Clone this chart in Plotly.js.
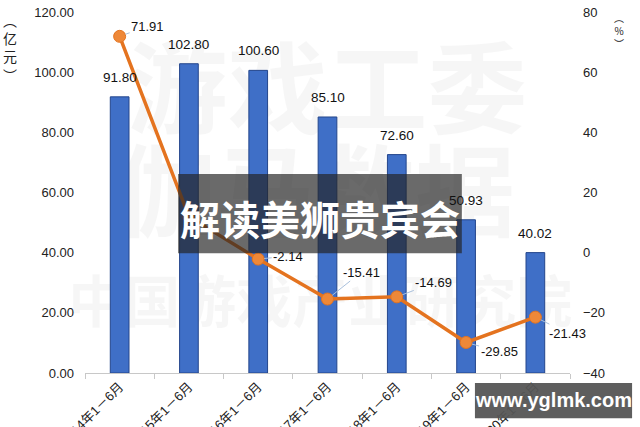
<!DOCTYPE html>
<html>
<head>
<meta charset="utf-8">
<script src="https://cdn.plot.ly/plotly-3.0.1.min.js"></script>
<style>html,body{margin:0;padding:0;background:#fff;}#chart{width:640px;height:427px;}</style>
</head>
<body>
<div id="chart"></div>
<script>
const categories = ["2014年1－6月","2015年1－6月","2016年1－6月","2017年1－6月","2018年1－6月","2019年1－6月","2020年1－6月"];
const revenue = [91.80, 102.80, 100.60, 85.10, 72.60, 50.93, 40.02];
const growth = [71.91, 11.98, -2.14, -15.41, -14.69, -29.85, -21.43];
const growthShown = [true, false, true, true, true, true, true];
const growthOffsets = [[28,-10],[0,0],[30,-3],[34,-27],[37,-14],[33,9],[32,16]];

const font = "Liberation Sans, Arial, Noto Sans CJK SC, sans-serif";

const bars = {
  type: "bar", x: categories, y: revenue, yaxis: "y",
  width: 0.27,
  marker: {color: "#3F6FC7", line: {color: "#24468C", width: 1}},
  hoverinfo: "none"
};
const line = {
  type: "scatter", mode: "lines+markers", x: categories, y: growth, yaxis: "y2",
  line: {color: "#E4731F", width: 3.5},
  marker: {color: "#EE8838", size: 12, line: {color: "#E4731F", width: 1}},
  hoverinfo: "none", cliponaxis: false
};

const annotations = [];
revenue.forEach((v, i) => {
  annotations.push({
    x: categories[i], y: v, xref: "x", yref: "y", yanchor: "bottom", xanchor: "center",
    yshift: 10, text: v.toFixed(2), showarrow: false,
    font: {family: font, size: 13.5, color: "#111"}
  });
});
growth.forEach((g, i) => {
  if (!growthShown[i]) return;
  annotations.push({
    x: categories[i], y: g, xref: "x", yref: "y2",
    text: g.toFixed(2), showarrow: true, arrowhead: 0, arrowwidth: 1,
    arrowcolor: "#a9c0dc", ax: growthOffsets[i][0], ay: growthOffsets[i][1],
    standoff: 6, font: {family: font, size: 13, color: "#111"}
  });
});
// axis units
annotations.push({xref: "paper", yref: "paper", x: -0.155, y: 1.01, yanchor: "top", text: "︵<br>亿<br>元<br>︶",
  showarrow: false, font: {family: "Noto Sans CJK SC", size: 14, color: "#222"}, xanchor: "center"});
annotations.push({xref: "paper", yref: "paper", x: 1.1, y: 1.01, yanchor: "top", text: "︵<br>%<br>︶",
  showarrow: false, font: {family: "Noto Sans CJK SC", size: 10, color: "#222"}, xanchor: "center"});
// overlay title
annotations.push({xref: "paper", yref: "paper", x: 0.485, y: 0.43, xanchor: "center", yanchor: "middle",
  text: "<b>解读美狮贵宾会</b>",
  showarrow: false, font: {family: "Noto Sans CJK SC", size: 40, color: "#ffffff"}});
// watermark url
annotations.push({xref: "paper", yref: "paper", x: 0.966, y: -0.076, xanchor: "center", yanchor: "middle",
  text: "<b>www.yglmk.com</b>",
  showarrow: false, font: {family: "Liberation Sans, Arial", size: 20, color: "#ffffff"}});

const wm = "rgba(0,0,0,0.035)";
const shapes = [
  {type: "rect", xref: "paper", yref: "paper", x0: 0, x1: 1, y0: 0.60, y1: 0.92, layer: "below",
   line: {width: 0}, fillcolor: "rgba(0,0,0,0)",
   label: {text: "<b>游戏工委</b>", font: {family: "Noto Sans CJK SC", size: 100, color: wm}}},
  {type: "rect", xref: "paper", yref: "paper", x0: -0.05, x1: 1, y0: 0.33, y1: 0.62, layer: "below",
   line: {width: 0}, fillcolor: "rgba(0,0,0,0)",
   label: {text: "<b>伽马数据</b>", font: {family: "Noto Sans CJK SC", size: 100, color: wm}}},
  {type: "rect", xref: "paper", yref: "paper", x0: -0.03, x1: 1, y0: 0.07, y1: 0.30, layer: "below",
   line: {width: 0}, fillcolor: "rgba(0,0,0,0)",
   label: {text: "<b>中国游戏产业研究院</b>", font: {family: "Noto Sans CJK SC", size: 56, color: wm}}},
  {type: "rect", xref: "paper", yref: "paper", x0: 0.192, x1: 0.777, y0: 0.332, y1: 0.551, layer: "above",
   line: {width: 0}, fillcolor: "rgba(35,35,35,0.68)"},
  {type: "rect", xref: "paper", yref: "paper", x0: 0.804, x1: 1.128, y0: -0.125, y1: -0.028, layer: "above",
   line: {width: 0}, fillcolor: "rgba(85,85,85,0.95)"}
];

const layout = {
  width: 640, height: 427,
  margin: {l: 85, r: 70, t: 12, b: 54},
  paper_bgcolor: "#fff", plot_bgcolor: "rgba(0,0,0,0)",
  showlegend: false,
  xaxis: {type: "category", range: [-0.5, 6.5], autorange: false, tickangle: -45,
    tickfont: {family: font, size: 13, color: "#222"},
    showline: true, linecolor: "#c8c8c8", ticks: "outside", tickson: "boundaries", ticklen: 5,
    tickcolor: "#c8c8c8", showgrid: false, automargin: false},
  yaxis: {range: [0, 120], autorange: false, dtick: 20, tickformat: ".2f", showgrid: false, zeroline: false,
    tickfont: {family: font, size: 13, color: "#222"}, ticks: "", showline: false, automargin: false,
    ticklabelstandoff: 10},
  yaxis2: {range: [-40, 80], autorange: false, dtick: 20, overlaying: "y", side: "right", showgrid: false, zeroline: false,
    tickfont: {family: font, size: 13, color: "#222"}, ticks: "", showline: false, automargin: false,
    ticklabelstandoff: 12},
  annotations: annotations,
  shapes: shapes
};

Plotly.newPlot("chart", [bars, line], layout, {staticPlot: true});
</script>
</body>
</html>
